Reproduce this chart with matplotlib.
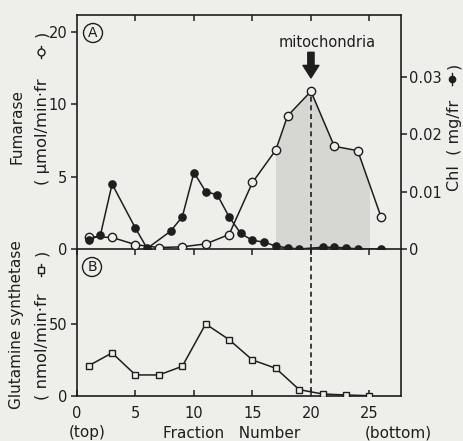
import matplotlib.pyplot as plt
from matplotlib.lines import Line2D
from matplotlib.patches import Rectangle

# fumarase (open circles, left axis of panel A; plotted in axis units)
fum_frac = [1, 3, 5, 7, 9, 11, 13, 15, 17, 18, 20, 22, 24, 26]
fum_val = [0.85, 0.8, 0.3, 0.1, 0.15, 0.35, 1.0, 4.6, 6.85, 9.2, 10.9, 7.1, 6.8, 2.2]

# chlorophyll (filled circles, right axis of panel A)
chl_frac = [1, 2, 3, 5, 6, 8, 9, 10, 11, 12, 13, 14, 15, 16, 17, 18, 19, 21, 22, 23, 24, 26]
chl_val = [0.0016, 0.0024, 0.0113, 0.0036, 0.0001, 0.0031, 0.0056, 0.0133, 0.0100,
           0.0094, 0.0056, 0.0027, 0.0015, 0.0012, 0.0005, 0.0002, 0.0000,
           0.0003, 0.0003, 0.0002, 0.0000, 0.0000]

# glutamine synthetase (open squares, panel B)
gs_frac = [1, 3, 5, 7, 9, 11, 13, 15, 17, 19, 21, 23, 25]
gs_val = [21.0, 29.9, 14.6, 14.6, 20.6, 50.0, 39.1, 25.0, 19.2, 4.4, 1.4, 0.7, 0.2]

x_ticks = [0, 5, 10, 15, 20, 25]
fum_ticks = [0, 5, 10, 15]
fum_ticklabels = ['0', '5', '10', '20']
chl_ticks = [0, 0.01, 0.02, 0.03]
chl_ticklabels = ['0', '0.01', '0.02', '0.03']
gs_ticks = [0, 50]

mito_frac = 20
shade_range = (17, 25)

bg = '#eeeeeb'
ink = '#1e1e1e'
W, H = 463, 441


def fx(x):
    return x / W


def fy(y):
    return 1 - y / H


plt.rcParams['font.family'] = 'DejaVu Sans'
fig = plt.figure(figsize=(4.63, 4.41), dpi=100, facecolor=bg)

ax_a = fig.add_axes([fx(77), fy(249), fx(401) - fx(77), fy(15) - fy(249)])
ax_b = fig.add_axes([fx(77), fy(396), fx(401) - fx(77), fy(249) - fy(396)])
for ax in (ax_a, ax_b):
    ax.set_facecolor('none')
    ax.set_xlim(0, 27.7)
    for s in ax.spines.values():
        s.set_color(ink)
        s.set_linewidth(1.2)
ax_a.set_ylim(0, 16.18)
ax_b.set_ylim(0, 102)
ax_b.spines['top'].set_visible(False)

# shaded mitochondrial region under fumarase curve
shade = ax_a.fill_between(fum_frac, fum_val, 0, color='#d6d6d3', lw=0, zorder=1)
clip = Rectangle((shade_range[0], 0), shade_range[1] - shade_range[0], 20,
                 transform=ax_a.transData)
shade.set_clip_path(clip)

ax_a.plot(fum_frac, fum_val, color=ink, lw=1.1, marker='o', ms=6,
          mfc=bg, mec=ink, mew=1.0, zorder=3)

ax_c = ax_a.twinx()
ax_c.set_ylim(0, 0.0407)
ax_c.plot(chl_frac, chl_val, color=ink, lw=1.1, marker='o', ms=5.2,
          mfc=ink, mec=ink, zorder=4)
for s in ax_c.spines.values():
    s.set_visible(False)

ax_b.plot(gs_frac, gs_val, color=ink, lw=1.1, marker='s', ms=5,
          mfc=bg, mec=ink, mew=1.0, zorder=3)

# dashed mitochondria marker line
ax_a.vlines(mito_frac, 0, fum_val[fum_frac.index(mito_frac)], color=ink, lw=1.2,
            linestyles=(0, (3, 2.2)), zorder=2)
ax_b.vlines(mito_frac, 3, 102, color=ink, lw=1.2, linestyles=(0, (3, 2.2)), zorder=2)
ax_a.annotate('', xy=(mito_frac, 11.83), xytext=(mito_frac, 13.6),
              arrowprops=dict(facecolor=ink, edgecolor=ink, width=4.5,
                              headwidth=11.5, headlength=9, shrink=0))
ax_a.text(21.35, 14.25, 'mitochondria', ha='center', va='center',
          fontsize=10.5, color=ink)

# ticks: x ticks point down (top of A, zero line of A/B) or up (bottom of B)
ax_a.set_xticks(x_ticks[1:])
ax_a.tick_params(axis='x', which='major', bottom=False, top=True, labelbottom=False,
                 direction='in', length=4, width=1.1, color=ink)
ax_b.set_xticks(x_ticks)
ax_b.tick_params(axis='x', which='major', bottom=True, top=True, labeltop=False,
                 direction='in', length=4, width=1.1, color=ink, labelsize=10.5,
                 pad=7, labelcolor=ink)
ax_a.set_yticks(fum_ticks, fum_ticklabels)
ax_a.tick_params(axis='y', direction='out', length=4, width=1.1, color=ink,
                 labelsize=10.5, pad=3, labelcolor=ink)
ax_c.set_yticks(chl_ticks, chl_ticklabels)
ax_c.tick_params(axis='y', direction='out', length=4, width=1.1, color=ink,
                 labelsize=10.5, pad=1.5, labelcolor=ink)
ax_b.set_yticks(gs_ticks)
ax_b.tick_params(axis='y', direction='out', length=4, width=1.1, color=ink,
                 labelsize=10.5, pad=3, labelcolor=ink)

# panel letters
circ = dict(boxstyle='circle,pad=0.18', fc='none', ec=ink, lw=1.0)
fig.text(fx(93), fy(33), 'A', ha='center', va='center', fontsize=10, color=ink, bbox=circ)
fig.text(fx(92), fy(267), 'B', ha='center', va='center', fontsize=10, color=ink, bbox=circ)

# axis titles
lab = dict(rotation=90, ha='center', color=ink)
fig.text(fx(17), fy(126), 'Fumarase', va='center', fontsize=11, **lab)
fig.text(fx(42), fy(185), '( μmol/min·fr', va='bottom', fontsize=11.8, **lab)
fig.text(fx(42), fy(34), ')', va='center', fontsize=11.5, **lab)
fig.text(fx(17), fy(325), 'Glutamine synthetase', va='center', fontsize=11, **lab)
fig.text(fx(42), fy(400), '( nmol/min·fr', va='bottom', fontsize=11.8, **lab)
fig.text(fx(42), fy(253), ')', va='center', fontsize=11.5, **lab)
fig.text(fx(454), fy(191), 'Chl  ( mg/fr', va='bottom', fontsize=11.5, **lab)
fig.text(fx(454), fy(66), ')', va='center', fontsize=11.5, **lab)


def key(x, y, marker, filled, ms):
    fig.add_artist(Line2D([fx(x), fx(x)], [fy(y + 6), fy(y - 6)],
                          transform=fig.transFigure, color=ink, lw=1.0))
    fig.add_artist(Line2D([fx(x)], [fy(y)], transform=fig.transFigure,
                          marker=marker, ms=ms, mfc=ink if filled else bg,
                          mec=ink, mew=1.0, lw=0))


key(41, 52, 'o', False, 5)
key(41, 270, 's', False, 4.5)
key(452, 79, 'o', True, 4.5)

# x axis texts
fig.text(fx(87), fy(433), '(top)', ha='center', va='center', fontsize=11, color=ink)
fig.text(fx(232), fy(433), 'Fraction   Number', ha='center', va='center',
         fontsize=11, color=ink)
fig.text(fx(398), fy(433), '(bottom)', ha='center', va='center', fontsize=11, color=ink)

fig.savefig('out.png', dpi=100, facecolor=bg)
